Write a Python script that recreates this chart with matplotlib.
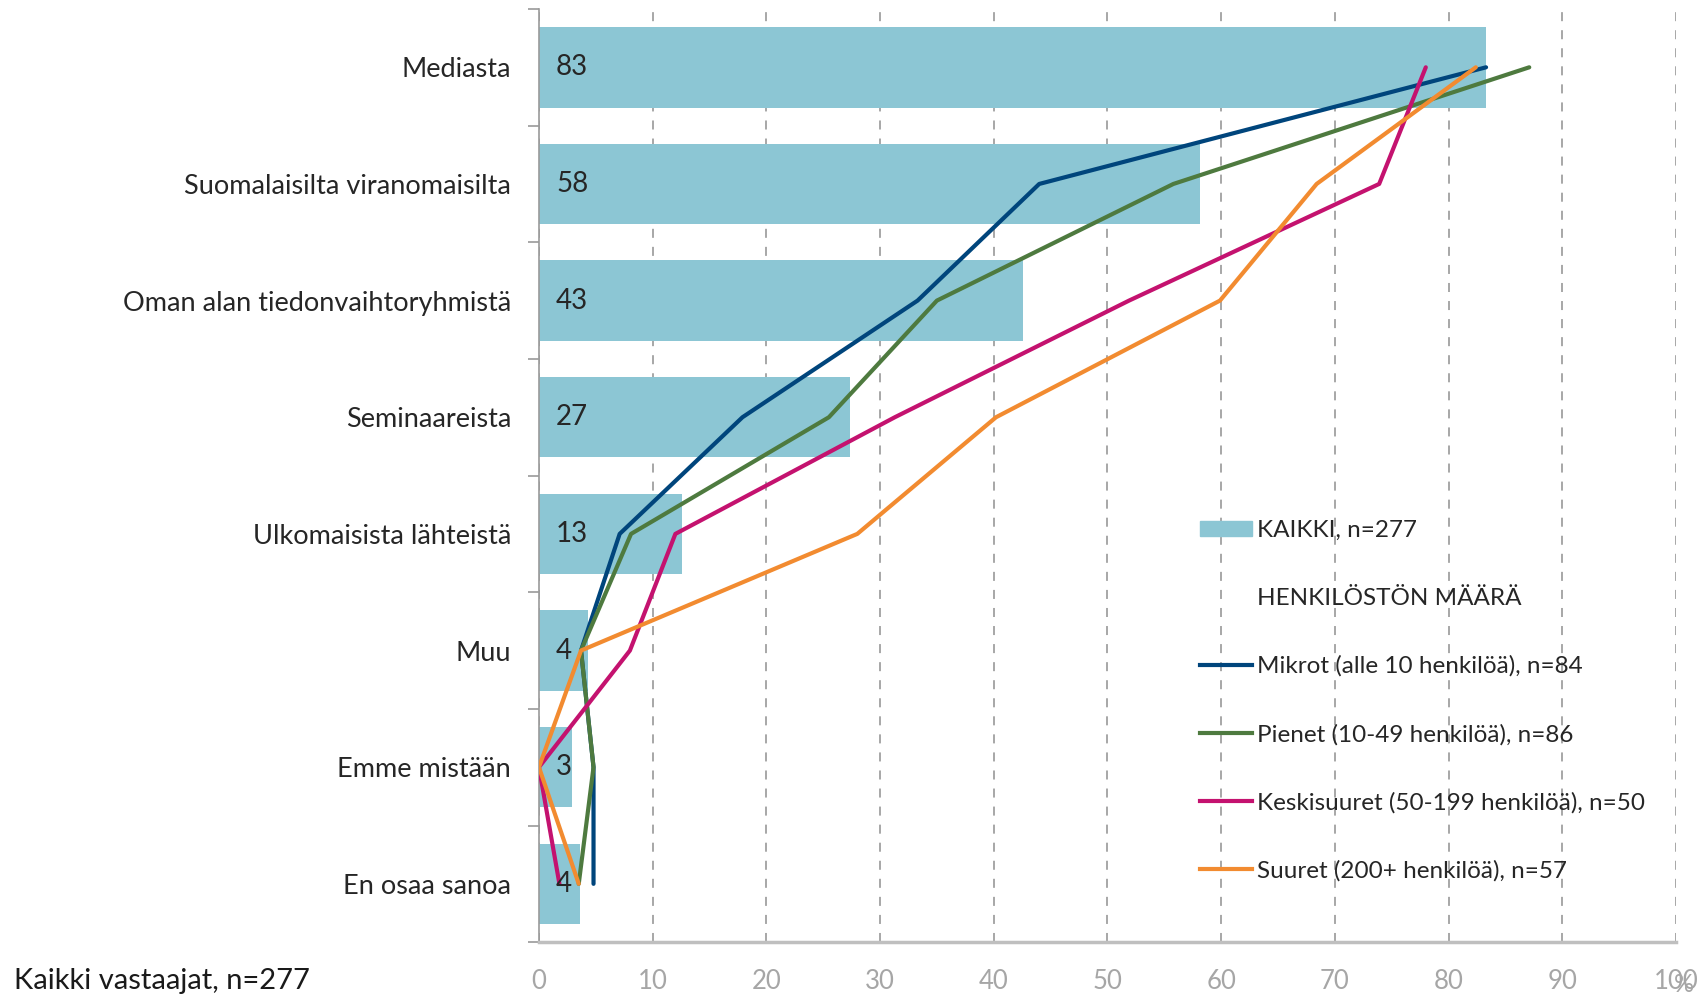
import numpy as np
import matplotlib.pyplot as plt
from matplotlib.patches import Patch
from matplotlib.lines import Line2D

plt.rcParams['font.family'] = ['Lato', 'DejaVu Sans']

# data
categories = ['Mediasta', 'Suomalaisilta viranomaisilta', 'Oman alan tiedonvaihtoryhmistä',
              'Seminaareista', 'Ulkomaisista lähteistä', 'Muu', 'Emme mistään', 'En osaa sanoa']
kaikki = [83.3, 58.1, 42.6, 27.4, 12.6, 4.3, 2.9, 3.6]
mikrot = [83.3, 44.0, 33.3, 17.9, 7.1, 3.7, 4.8, 4.8]
pienet = [87.1, 55.8, 35.0, 25.5, 8.1, 3.7, 4.8, 3.5]
keskisuuret = [78.0, 73.9, 51.9, 31.3, 12.0, 8.0, 0.0, 1.8]
suuret = [82.4, 68.4, 59.9, 40.2, 28.0, 3.7, 0.0, 3.5]

series = [
    ('Mikrot (alle 10 henkilöä), n=84', mikrot, '#00457C'),
    ('Pienet (10-49 henkilöä), n=86', pienet, '#4E7A3F'),
    ('Keskisuuret (50-199 henkilöä), n=50', keskisuuret, '#C4126F'),
    ('Suuret (200+ henkilöä), n=57', suuret, '#F28B30'),
]

fig = plt.figure(figsize=(16.98, 9.97), dpi=100)
ax = fig.add_axes([0.3174, 0.055, 0.987 - 0.3174, 0.936])

y = np.arange(len(categories))
ax.barh(y, kaikki, height=0.69, color='#8CC6D4', zorder=2)
for yi, v in zip(y, kaikki):
    ax.text(1.5, yi, f'{v:.0f}', va='center', ha='left', fontsize=20, color='#262626', zorder=4)

for label, vals, col in series:
    ax.plot(vals, y, color=col, lw=3, zorder=3, solid_capstyle='round')

ax.set_xlim(0, 100)
ax.set_ylim(len(categories) - 0.5, -0.5)
ax.set_xticks(np.arange(0, 101, 10))
ax.set_yticks(y)
ax.set_yticklabels(categories, fontsize=19.5, color='#262626')
ax.set_yticks(np.arange(-0.5, len(categories)), minor=True)
ax.tick_params(axis='y', which='major', length=0, pad=20)
ax.tick_params(axis='y', which='minor', length=8, color='#9A9A9A', width=1.2)
ax.tick_params(axis='x', length=0, pad=19, labelsize=18.5, labelcolor='#A6A6A6')

ax.grid(axis='x', linestyle=(0, (5, 5)), color='#A0A0A0', lw=1.3, zorder=1)
for s in ['top', 'right']:
    ax.spines[s].set_visible(False)
ax.spines['left'].set_color('#9A9A9A')
ax.spines['left'].set_linewidth(1.2)
ax.spines['bottom'].set_color('#BFBFBF')
ax.spines['bottom'].set_linewidth(2.5)

handles = [Patch(color='#8CC6D4'), Line2D([], [], color='none')]
labels = ['KAIKKI, n=277', 'HENKILÖSTÖN MÄÄRÄ']
for label, vals, col in series:
    handles.append(Line2D([], [], color=col, lw=3))
    labels.append(label)
leg = fig.legend(handles, labels, loc='upper left', bbox_to_anchor=(0.7008, 0.488),
                 frameon=False, fontsize=17.5, handlelength=2.15, handleheight=0.6,
                 handletextpad=0.2, labelspacing=1.92, borderaxespad=0)
for t in leg.get_texts():
    t.set_color('#262626')

fig.text(0.008, 0.008, 'Kaikki vastaajat, n=277', fontsize=21, color='#1a1a1a', ha='left', va='baseline')
fig.text(0.9975, 0.001, '%', fontsize=18, color='#A6A6A6', ha='right', va='bottom')

fig.savefig('out.png', dpi=100)
